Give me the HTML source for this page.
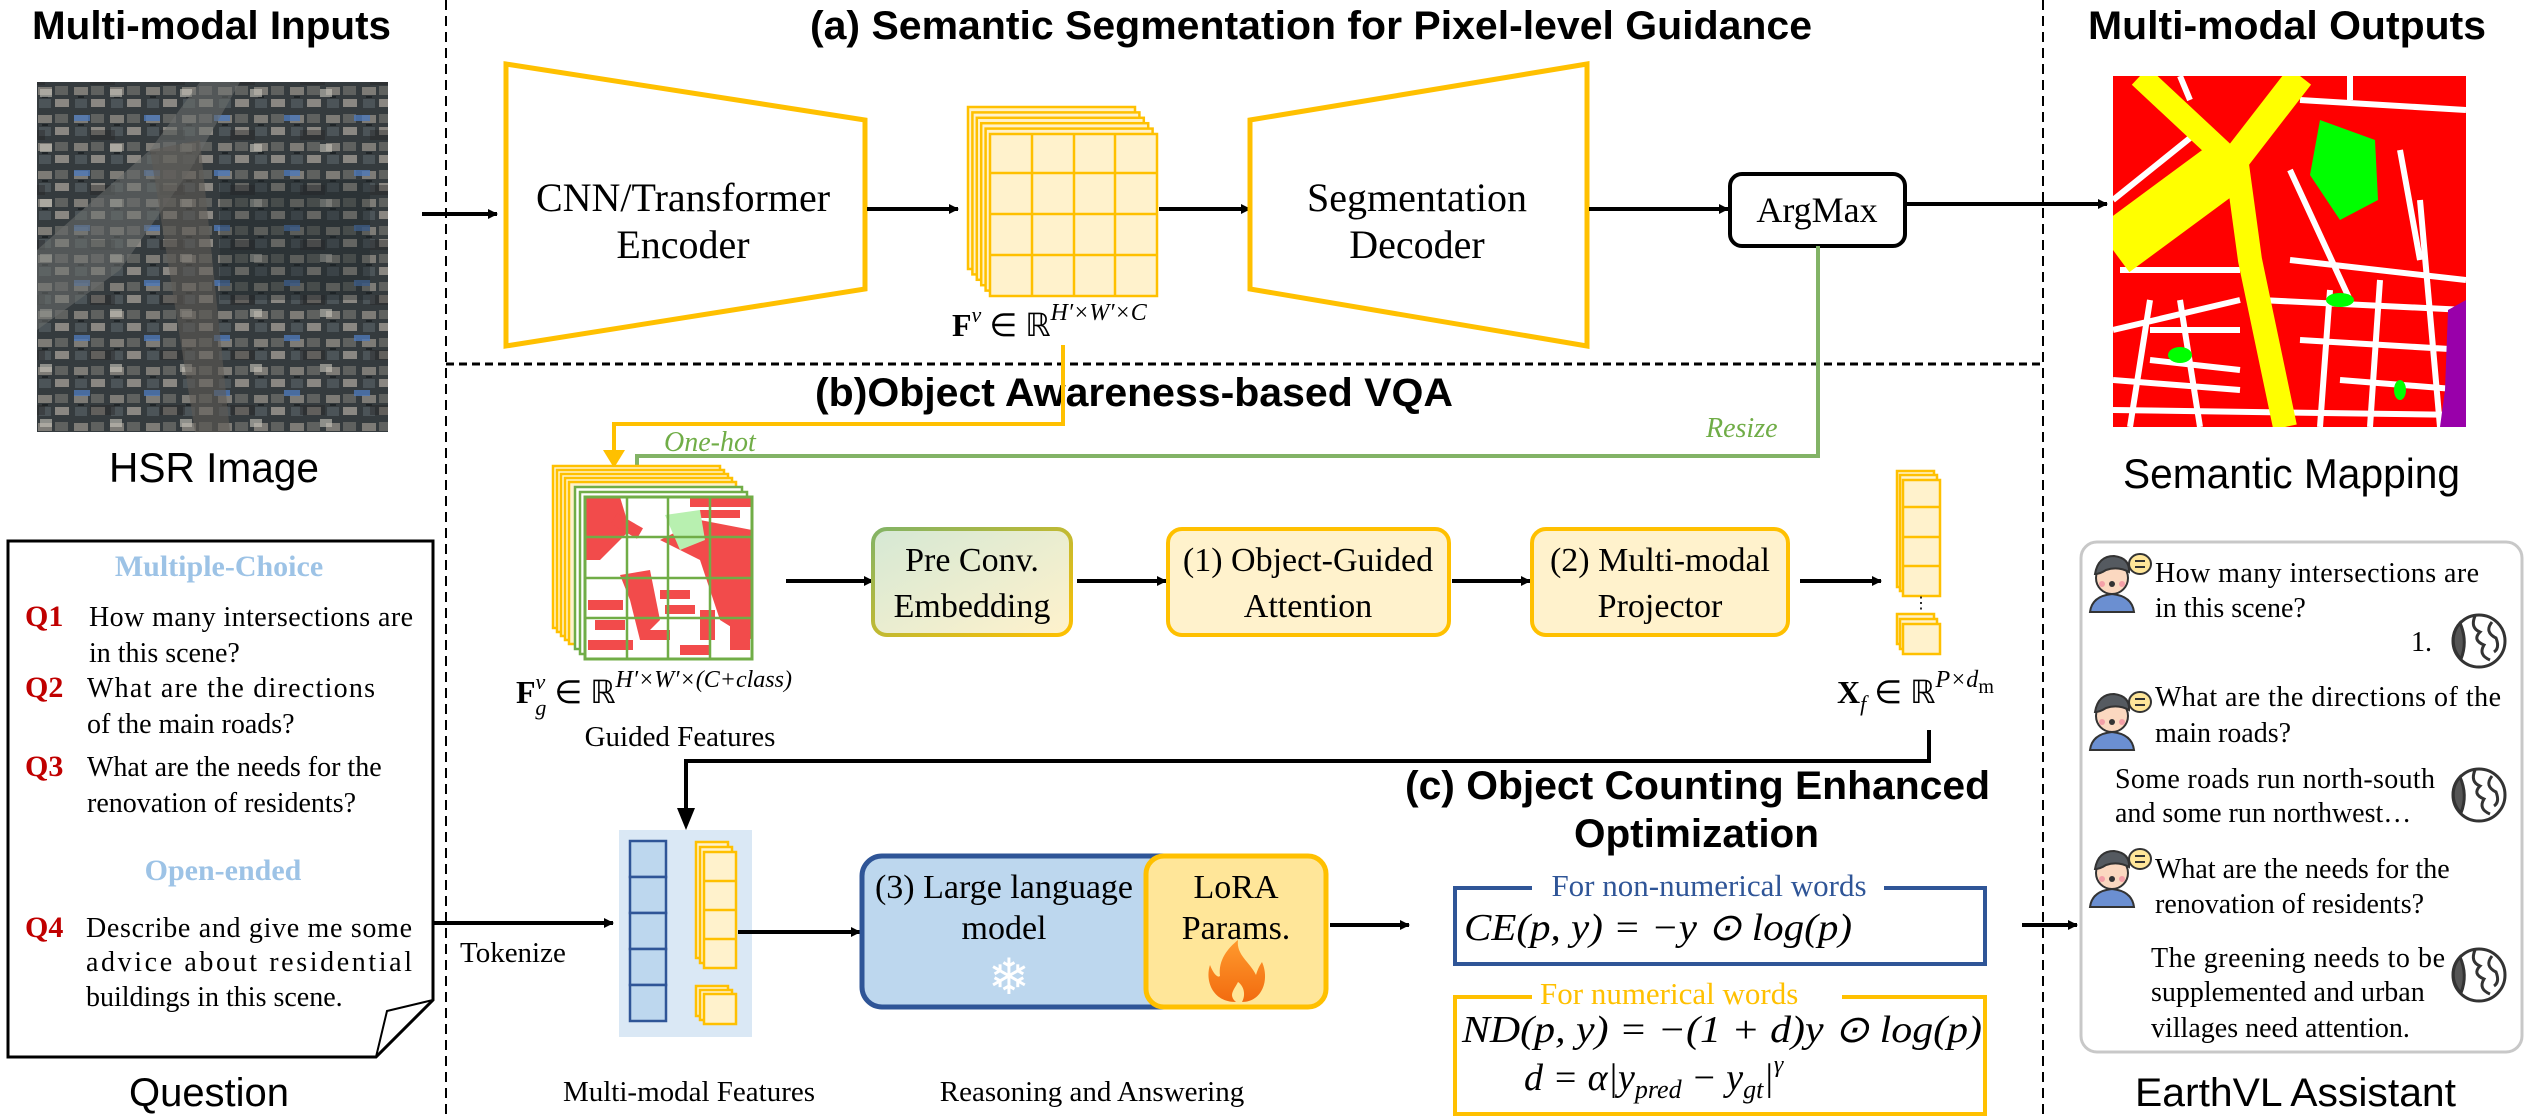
<!DOCTYPE html>
<html><head><meta charset="utf-8"><style>
html,body{margin:0;padding:0;background:#fff;}
svg{display:block;}
.t{font-family:"Liberation Sans Narrow","Liberation Sans",Arial,sans-serif;}
.s{font-family:"Liberation Serif","Times New Roman",serif;}
</style></head><body>
<svg width="2528" height="1117" viewBox="0 0 2528 1117" xmlns="http://www.w3.org/2000/svg">
<defs>
<marker id="ab" markerWidth="10" markerHeight="10" refX="9" refY="5" orient="auto" markerUnits="userSpaceOnUse" viewBox="0 0 10 10"><path d="M0,0 L10,5 L0,10 z" fill="#000"/></marker>
<pattern id="city" width="36" height="28" patternUnits="userSpaceOnUse">
<rect width="36" height="28" fill="#353b3e"/>
<rect x="2" y="3" width="14" height="8" fill="#7d7b76"/>
<rect x="19" y="2" width="13" height="9" fill="#5f615f"/>
<rect x="3" y="15" width="12" height="9" fill="#4c5458"/>
<rect x="19" y="15" width="14" height="8" fill="#8a8782"/>
<rect x="6" y="12" width="6" height="2" fill="#1f2427"/>
</pattern>
<pattern id="city2" width="70" height="55" patternUnits="userSpaceOnUse">
<rect x="4" y="5" width="16" height="6" fill="#4d78b8" opacity="0.8"/>
<rect x="40" y="34" width="12" height="8" fill="#c9c6bd" opacity="0.6"/>
<rect x="20" y="20" width="25" height="10" fill="#222" opacity="0.4"/>
</pattern>
<clipPath id="gclip"><rect x="585" y="497" width="167" height="162"/></clipPath>
<clipPath id="sclip"><rect x="2113" y="76" width="353" height="351"/></clipPath>
<linearGradient id="pg" x1="0" y1="0" x2="1" y2="1"><stop offset="0" stop-color="#d5e8d4"/><stop offset="1" stop-color="#fff2cc"/></linearGradient>
<linearGradient id="pgs" x1="0" y1="0" x2="1" y2="1"><stop offset="0" stop-color="#82b366"/><stop offset="1" stop-color="#ffc000"/></linearGradient>
<linearGradient id="fire" x1="0" y1="0" x2="0" y2="1"><stop offset="0" stop-color="#ff9a2e"/><stop offset="1" stop-color="#f26b0f"/></linearGradient>
</defs>

<line x1="446" y1="0" x2="446" y2="1117" stroke="#000" stroke-width="2" stroke-dasharray="10,6"/>
<line x1="2043" y1="0" x2="2043" y2="1117" stroke="#000" stroke-width="2" stroke-dasharray="10,6"/>
<line x1="446" y1="364" x2="2043" y2="364" stroke="#000" stroke-width="3" stroke-dasharray="8,5"/>

<g class="t" font-weight="bold" font-size="40">
<text x="32" y="39" textLength="359" lengthAdjust="spacingAndGlyphs">Multi-modal Inputs</text>
<text x="810" y="39" textLength="1002" lengthAdjust="spacingAndGlyphs">(a) Semantic Segmentation for Pixel-level Guidance</text>
<text x="2088" y="39" textLength="398" lengthAdjust="spacingAndGlyphs">Multi-modal Outputs</text>
<text x="815" y="406" textLength="638" lengthAdjust="spacingAndGlyphs">(b)Object Awareness-based VQA</text>
<text x="1405" y="799" textLength="585" lengthAdjust="spacingAndGlyphs">(c) Object Counting Enhanced</text>
<text x="1574" y="847" textLength="245" lengthAdjust="spacingAndGlyphs">Optimization</text>
</g>

<!-- HSR image -->
<rect x="37" y="82" width="351" height="350" fill="url(#city)"/>
<rect x="37" y="82" width="351" height="350" fill="url(#city2)"/>
<polygon points="37,250 150,150 200,82 240,82 190,170 120,270 37,330" fill="#6b6f6e" opacity="0.55"/>
<polygon points="150,150 200,140 230,432 195,432" fill="#5d5a55" opacity="0.6"/>
<rect x="220" y="180" width="150" height="120" fill="#1e2528" opacity="0.35"/>
<text class="t" x="109" y="482" font-size="42" textLength="210" lengthAdjust="spacingAndGlyphs">HSR Image</text>

<!-- encoder -->
<polygon points="506,64 865,120 865,289 506,346" fill="#fff" stroke="#ffc000" stroke-width="5"/>
<text class="s" x="683" y="211" font-size="40" text-anchor="middle">CNN/Transformer</text>
<text class="s" x="683" y="258" font-size="40" text-anchor="middle">Encoder</text>
<line x1="422" y1="214" x2="497" y2="214" stroke="#000" stroke-width="4" marker-end="url(#ab)"/>
<line x1="867" y1="209" x2="958" y2="209" stroke="#000" stroke-width="4" marker-end="url(#ab)"/>

<g fill="#fff2cc" stroke="#ffc000" stroke-width="2.5">
<rect x="968" y="107" width="167" height="162"/>
<rect x="972.4" y="112.4" width="167" height="162"/>
<rect x="976.8" y="117.8" width="167" height="162"/>
<rect x="981.2" y="123.2" width="167" height="162"/>
<rect x="985.6" y="128.6" width="167" height="162"/>
<rect x="990" y="134" width="167" height="162"/>
</g>
<g stroke="#ffc000" stroke-width="2.5">
<line x1="1032" y1="134" x2="1032" y2="296"/><line x1="1074" y1="134" x2="1074" y2="296"/><line x1="1115" y1="134" x2="1115" y2="296"/>
<line x1="990" y1="173" x2="1157" y2="173"/><line x1="990" y1="214" x2="1157" y2="214"/><line x1="990" y1="255" x2="1157" y2="255"/>
</g>
<text class="s" x="952" y="336" font-size="32"><tspan font-weight="bold">F</tspan><tspan font-style="italic" font-size="22" dy="-14">v</tspan><tspan dy="14"> ∈ ℝ</tspan><tspan font-style="italic" font-size="24" dy="-16">H′×W′×C</tspan></text>
<line x1="1159" y1="209" x2="1250" y2="209" stroke="#000" stroke-width="4" marker-end="url(#ab)"/>

<polygon points="1250,120 1587,64 1587,346 1250,289" fill="#fff" stroke="#ffc000" stroke-width="5"/>
<text class="s" x="1417" y="211" font-size="40" text-anchor="middle">Segmentation</text>
<text class="s" x="1417" y="258" font-size="40" text-anchor="middle">Decoder</text>
<line x1="1589" y1="209" x2="1728" y2="209" stroke="#000" stroke-width="4" marker-end="url(#ab)"/>
<rect x="1730" y="174" width="175" height="72" rx="12" fill="#fff" stroke="#000" stroke-width="4"/>
<text class="s" x="1817" y="222" font-size="36" text-anchor="middle">ArgMax</text>
<line x1="1905" y1="204" x2="2107" y2="204" stroke="#000" stroke-width="4" marker-end="url(#ab)"/>

<!-- segmentation output -->
<g clip-path="url(#sclip)">
<rect x="2113" y="76" width="353" height="351" fill="#ff0000"/>
<g stroke="#fff" stroke-width="6" fill="none">
<path d="M2113,200 L2200,130 M2180,76 L2190,100 M2300,100 L2466,110 M2350,76 L2350,100 M2113,330 L2240,300 M2150,300 L2130,427 M2113,380 L2240,390 M2180,300 L2200,427 M2290,260 L2466,280 M2330,290 L2320,427 M2380,280 L2370,427 M2420,200 L2440,427 M2300,340 L2466,350 M2290,170 L2350,300 M2400,150 L2420,260"/>
<path d="M2150,330 L2240,330 M2150,360 L2240,370 M2340,380 L2466,390 M2120,270 L2240,270 M2113,410 L2466,415 M2260,300 L2466,310"/>
</g>
<g stroke="#ffff00" fill="none">
<path d="M2140,76 L2230,160" stroke-width="24"/>
<path d="M2300,76 L2235,160" stroke-width="28"/>
<path d="M2235,160 L2113,250" stroke-width="55"/>
<path d="M2235,150 L2250,260 L2285,427" stroke-width="24"/>
</g>
<path d="M2320,120 L2375,140 L2378,200 L2340,220 L2310,175 z" fill="#00ff00"/>
<ellipse cx="2180" cy="355" rx="12" ry="8" fill="#00ff00"/>
<ellipse cx="2340" cy="300" rx="14" ry="7" fill="#00ff00"/>
<ellipse cx="2400" cy="390" rx="6" ry="10" fill="#00ff00"/>
<polygon points="2448,310 2466,300 2466,427 2440,427 2445,390" fill="#9900aa"/>
</g>
<text class="t" x="2123" y="488" font-size="42" textLength="337" lengthAdjust="spacingAndGlyphs">Semantic Mapping</text>

<polyline points="1063,345 1063,424 614,424 614,452" fill="none" stroke="#ffc000" stroke-width="4"/>
<polygon points="603,450 625,450 614,468" fill="#ffc000"/>
<polyline points="1818,246 1818,456 637,456 637,470" fill="none" stroke="#82b366" stroke-width="4"/>
<polygon points="626,468 648,468 637,488" fill="#6fa84a"/>
<text class="s" x="664" y="451" font-size="28" font-style="italic" fill="#70ad47">One-hot</text>
<text class="s" x="1706" y="437" font-size="28" font-style="italic" fill="#70ad47">Resize</text>

<!-- guided features -->
<g fill="#fff2cc" stroke="#ffc000" stroke-width="2.5">
<rect x="553" y="466" width="167" height="162"/>
<rect x="557" y="470" width="167" height="162"/>
<rect x="561" y="474" width="167" height="162"/>
<rect x="565" y="478" width="167" height="162"/>
<rect x="569" y="482" width="167" height="162"/>
</g>
<g fill="#fff" stroke="#70ad47" stroke-width="2.5">
<rect x="575" y="487" width="167" height="162"/>
<rect x="580" y="492" width="167" height="162"/>
<rect x="585" y="497" width="167" height="162"/>
</g>
<g clip-path="url(#gclip)" fill="#f24b4b">
<polygon points="585,497 620,497 630,530 600,560 585,560"/>
<rect x="612" y="520" width="30" height="12" transform="rotate(30 627 526)"/>
<polygon points="660,540 700,520 752,530 752,640 720,620 700,560"/>
<rect x="690" y="497" width="62" height="10"/>
<rect x="700" y="510" width="40" height="8"/>
<polygon points="620,575 650,570 660,620 640,640 630,600"/>
<rect x="588" y="600" width="35" height="10"/><rect x="595" y="620" width="30" height="10"/>
<rect x="660" y="590" width="30" height="9"/><rect x="665" y="605" width="30" height="9"/>
<rect x="700" y="610" width="15" height="30"/><rect x="730" y="600" width="20" height="50"/>
<rect x="588" y="640" width="45" height="10"/><rect x="640" y="630" width="30" height="10"/><rect x="680" y="645" width="30" height="10"/>
</g>
<path d="M665,515 L700,510 L705,540 L680,550 Z" fill="#b8f0b0" clip-path="url(#gclip)"/>
<g stroke="#70ad47" stroke-width="2.5">
<line x1="627" y1="497" x2="627" y2="659"/><line x1="668" y1="497" x2="668" y2="659"/><line x1="710" y1="497" x2="710" y2="659"/>
<line x1="585" y1="537" x2="752" y2="537"/><line x1="585" y1="578" x2="752" y2="578"/><line x1="585" y1="618" x2="752" y2="618"/>
</g>
<rect x="585" y="497" width="167" height="162" fill="none" stroke="#70ad47" stroke-width="3"/>
<text class="s" x="516" y="703" font-size="32"><tspan font-weight="bold">F</tspan><tspan font-style="italic" font-size="22" dy="-14">v</tspan><tspan font-style="italic" font-size="22" dx="-10" dy="26">g</tspan><tspan dy="-12"> ∈ ℝ</tspan><tspan font-style="italic" font-size="24" dy="-16">H′×W′×(C+class)</tspan></text>
<text class="s" x="680" y="746" font-size="29" text-anchor="middle">Guided Features</text>

<line x1="786" y1="581" x2="873" y2="581" stroke="#000" stroke-width="4" marker-end="url(#ab)"/>
<rect x="873" y="529" width="198" height="106" rx="14" fill="url(#pg)" stroke="url(#pgs)" stroke-width="4"/>
<text class="s" x="972" y="571" font-size="34" text-anchor="middle">Pre Conv.</text>
<text class="s" x="972" y="617" font-size="34" text-anchor="middle">Embedding</text>
<line x1="1077" y1="581" x2="1166" y2="581" stroke="#000" stroke-width="4" marker-end="url(#ab)"/>
<rect x="1168" y="529" width="281" height="106" rx="14" fill="#fff2cc" stroke="#ffc000" stroke-width="4"/>
<text class="s" x="1308" y="571" font-size="34" text-anchor="middle">(1) Object-Guided</text>
<text class="s" x="1308" y="617" font-size="34" text-anchor="middle">Attention</text>
<line x1="1452" y1="581" x2="1530" y2="581" stroke="#000" stroke-width="4" marker-end="url(#ab)"/>
<rect x="1532" y="529" width="256" height="106" rx="14" fill="#fff2cc" stroke="#ffc000" stroke-width="4"/>
<text class="s" x="1660" y="571" font-size="34" text-anchor="middle">(2) Multi-modal</text>
<text class="s" x="1660" y="617" font-size="34" text-anchor="middle">Projector</text>
<line x1="1800" y1="581" x2="1881" y2="581" stroke="#000" stroke-width="4" marker-end="url(#ab)"/>

<g fill="#fff2cc" stroke="#ffc000" stroke-width="2.5">
<rect x="1897" y="471" width="37" height="116"/>
<rect x="1900" y="475" width="37" height="116"/>
<rect x="1903" y="480" width="37" height="116"/>
<line x1="1903" y1="507" x2="1940" y2="507"/><line x1="1903" y1="537" x2="1940" y2="537"/><line x1="1903" y1="566" x2="1940" y2="566"/>
<rect x="1897" y="614" width="37" height="30"/>
<rect x="1900" y="619" width="37" height="30"/>
<rect x="1903" y="624" width="37" height="30"/>
</g>
<text class="s" x="1921" y="608" font-size="16" text-anchor="middle">⋮</text>
<text class="s" x="1837" y="703" font-size="32"><tspan font-weight="bold">X</tspan><tspan font-style="italic" font-size="22" dy="8">f</tspan><tspan dy="-8"> ∈ ℝ</tspan><tspan font-style="italic" font-size="24" dy="-16">P×d</tspan><tspan font-size="20" dy="6">m</tspan></text>
<polyline points="1929,730 1929,761 686,761 686,810" fill="none" stroke="#000" stroke-width="4"/>
<polygon points="677,808 695,808 686,830" fill="#000"/>

<!-- question box -->
<path d="M8,541 L433,541 L433,1000 L376,1057 L8,1057 Z" fill="#fff" stroke="#000" stroke-width="3"/>
<path d="M433,1000 L387,1011 L376,1057" fill="none" stroke="#000" stroke-width="2"/>
<text class="s" x="219" y="576" font-size="30" font-weight="bold" fill="#9dc3e6" text-anchor="middle">Multiple-Choice</text>
<g class="s" font-size="30" fill="#c00000" font-weight="bold">
<text x="25" y="626">Q1</text><text x="25" y="697">Q2</text><text x="25" y="776">Q3</text><text x="25" y="937">Q4</text>
</g>
<g class="s" font-size="28">
<text x="89" y="626" textLength="324" lengthAdjust="spacing">How many intersections are</text>
<text x="89" y="662">in this scene?</text>
<text x="87" y="697" textLength="288" lengthAdjust="spacing">What are the directions</text>
<text x="87" y="733">of the main roads?</text>
<text x="87" y="776">What are the needs for the</text>
<text x="87" y="812">renovation of residents?</text>
<text x="86" y="937" textLength="326" lengthAdjust="spacing">Describe and give me some</text>
<text x="86" y="971" textLength="326" lengthAdjust="spacing">advice about residential</text>
<text x="86" y="1006">buildings in this scene.</text>
</g>
<text class="s" x="223" y="880" font-size="30" font-weight="bold" fill="#9dc3e6" text-anchor="middle">Open-ended</text>
<text class="t" x="129" y="1106" font-size="40" textLength="160" lengthAdjust="spacingAndGlyphs">Question</text>

<line x1="433" y1="923" x2="613" y2="923" stroke="#000" stroke-width="4" marker-end="url(#ab)"/>
<text class="s" x="460" y="962" font-size="29">Tokenize</text>

<rect x="619" y="830" width="133" height="207" fill="#dae8f5"/>
<g fill="#bdd7ee" stroke="#2f5597" stroke-width="2.5">
<rect x="630" y="841" width="36" height="36"/><rect x="630" y="877" width="36" height="36"/><rect x="630" y="913" width="36" height="36"/><rect x="630" y="949" width="36" height="36"/><rect x="630" y="985" width="36" height="36"/>
</g>
<g fill="#fff2cc" stroke="#ffc000" stroke-width="2.5">
<rect x="696" y="842" width="32" height="116"/><rect x="700" y="847" width="32" height="116"/>
<rect x="704" y="852" width="32" height="116"/>
<line x1="704" y1="881" x2="736" y2="881"/><line x1="704" y1="910" x2="736" y2="910"/><line x1="704" y1="939" x2="736" y2="939"/>
<rect x="696" y="986" width="32" height="30"/><rect x="700" y="990" width="32" height="30"/><rect x="704" y="994" width="32" height="30"/>
</g>
<text class="s" x="689" y="1101" font-size="29" text-anchor="middle">Multi-modal Features</text>

<line x1="738" y1="932" x2="860" y2="932" stroke="#000" stroke-width="4" marker-end="url(#ab)"/>
<rect x="862" y="856" width="320" height="151" rx="20" fill="#bdd7ee" stroke="#2f5597" stroke-width="5"/>
<rect x="1146" y="856" width="180" height="151" rx="18" fill="#ffe699" stroke="#ffc000" stroke-width="5"/>
<text class="s" x="1004" y="898" font-size="34" text-anchor="middle">(3) Large language</text>
<text class="s" x="1004" y="939" font-size="34" text-anchor="middle">model</text>
<text x="1009" y="994" font-family="DejaVu Sans,sans-serif" font-size="50" fill="#fff" text-anchor="middle">❄</text>
<text class="s" x="1236" y="898" font-size="34" text-anchor="middle">LoRA</text>
<text class="s" x="1236" y="939" font-size="34" text-anchor="middle">Params.</text>
<path d="M1236,1002 C1212,1002 1205,980 1210,965 C1214,975 1218,978 1220,976 C1218,960 1228,948 1238,940 C1236,955 1250,962 1256,975 C1258,968 1260,965 1262,962 C1270,980 1262,1002 1242,1002 C1246,995 1244,986 1238,982 C1234,990 1228,995 1236,1002 Z" fill="url(#fire)"/>
<text class="s" x="1092" y="1101" font-size="29" text-anchor="middle">Reasoning and Answering</text>
<line x1="1330" y1="925" x2="1409" y2="925" stroke="#000" stroke-width="4" marker-end="url(#ab)"/>

<!-- loss boxes -->
<rect x="1455" y="888" width="530" height="76" fill="none" stroke="#2f5597" stroke-width="4"/>
<rect x="1532" y="874" width="352" height="28" fill="#fff"/>
<text class="s" x="1709" y="896" font-size="31" fill="#2f5597" text-anchor="middle">For non-numerical words</text>
<text class="s" x="1464" y="940" font-size="38" font-style="italic" textLength="388" lengthAdjust="spacingAndGlyphs">CE(p, y) = −y ⊙ log(p)</text>
<rect x="1455" y="997" width="530" height="117" fill="none" stroke="#ffc000" stroke-width="4"/>
<rect x="1532" y="983" width="310" height="28" fill="#fff"/>
<text class="s" x="1540" y="1004" font-size="31" fill="#ffc000">For numerical words</text>
<text class="s" x="1462" y="1042" font-size="38" font-style="italic" textLength="520" lengthAdjust="spacingAndGlyphs">ND(p, y) = −(1 + d)y ⊙ log(p)</text>
<text class="s" x="1524" y="1090" font-size="38" font-style="italic">d = α|y<tspan font-size="26" dy="8">pred</tspan><tspan dy="-8"> − y</tspan><tspan font-size="26" dy="8">gt</tspan><tspan dy="-8">|</tspan><tspan font-size="24" dy="-18">γ</tspan></text>
<line x1="2022" y1="925" x2="2077" y2="925" stroke="#000" stroke-width="4" marker-end="url(#ab)"/>

<!-- EarthVL assistant -->
<rect x="2081" y="542" width="441" height="510" rx="16" fill="#fff" stroke="#c8c8c8" stroke-width="3"/>
<g id="av">
<path d="M2090,612 Q2092,596 2112,594 Q2132,596 2134,612 Z" fill="#6b8fd1" stroke="#333" stroke-width="2"/>
<circle cx="2112" cy="578" r="16" fill="#fbd8c0" stroke="#333" stroke-width="2"/>
<path d="M2095,574 Q2098,556 2114,556 Q2130,558 2129,572 Q2118,566 2106,570 Q2100,574 2095,574 Z" fill="#555a60" stroke="#333" stroke-width="2"/>
<circle cx="2112" cy="584" r="3" fill="#333"/>
<circle cx="2102" cy="584" r="3" fill="#f4a0a8"/><circle cx="2122" cy="584" r="3" fill="#f4a0a8"/>
<ellipse cx="2140" cy="564" rx="11" ry="10" fill="#ffe699" stroke="#333" stroke-width="2"/>
<line x1="2135" y1="561" x2="2145" y2="561" stroke="#333" stroke-width="2"/><line x1="2135" y1="567" x2="2145" y2="567" stroke="#333" stroke-width="2"/>
</g>
<use href="#av" transform="translate(0,138)"/>
<use href="#av" transform="translate(0,295)"/>
<g id="gl" fill="none" stroke="#333" stroke-width="3">
<circle cx="2479" cy="641" r="26" fill="#fff"/>
<path d="M2460,623 A26,26 0 0 0 2461,659 Q2468,641 2460,623 Z" fill="#555"/>
<path d="M2475,616 Q2470,628 2480,632 Q2472,640 2484,645 Q2478,655 2490,660 M2492,622 Q2484,632 2496,638 Q2500,648 2494,652"/>
</g>
<use href="#gl" transform="translate(0,154)"/>
<use href="#gl" transform="translate(0,334)"/>
<g class="s" font-size="28">
<text x="2155" y="582" textLength="324" lengthAdjust="spacing">How many intersections are</text>
<text x="2155" y="617">in this scene?</text>
<text x="2411" y="651">1.</text>
<text x="2155" y="706" textLength="346" lengthAdjust="spacing">What are the directions of the</text>
<text x="2155" y="742">main roads?</text>
<text x="2115" y="788" textLength="320" lengthAdjust="spacing">Some roads run north-south</text>
<text x="2115" y="822">and some run northwest…</text>
<text x="2155" y="878">What are the needs for the</text>
<text x="2155" y="913">renovation of residents?</text>
<text x="2151" y="967" textLength="294" lengthAdjust="spacing">The greening needs to be</text>
<text x="2151" y="1001">supplemented and urban</text>
<text x="2151" y="1037">villages need attention.</text>
</g>
<text class="t" x="2135" y="1106" font-size="40" textLength="321" lengthAdjust="spacingAndGlyphs">EarthVL Assistant</text>
</svg>
</body></html>
